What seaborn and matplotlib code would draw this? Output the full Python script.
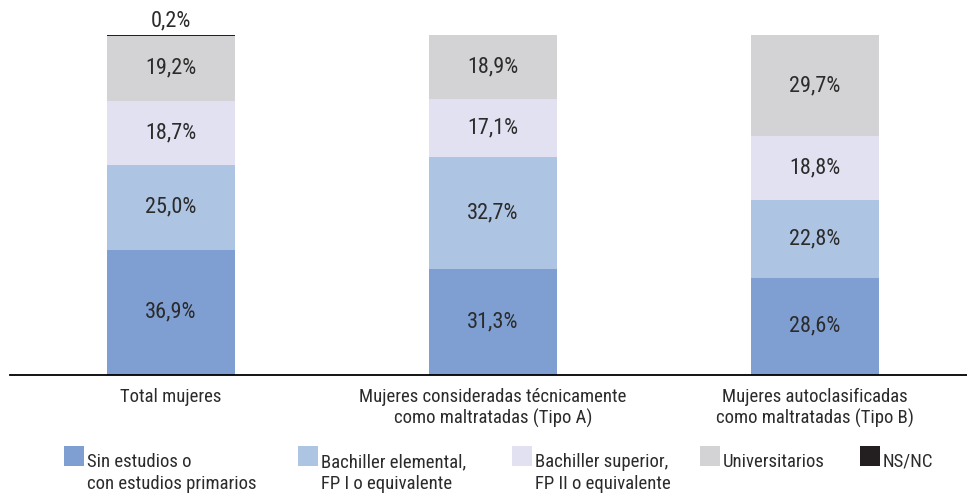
import matplotlib
matplotlib.use("Agg")
import matplotlib.pyplot as plt
import seaborn as sns
import pandas as pd
import numpy as np
from matplotlib.patches import Patch, Rectangle
from matplotlib.legend_handler import HandlerPatch
import logging
logging.getLogger('matplotlib.font_manager').setLevel(logging.ERROR)

categories = ["Total mujeres",
              "Mujeres consideradas técnicamente\ncomo maltratadas (Tipo A)",
              "Mujeres autoclasificadas\ncomo maltratadas (Tipo B)"]
series_names = ["Sin estudios o\ncon estudios primarios",
                "Bachiller elemental,\nFP I o equivalente",
                "Bachiller superior,\nFP II o equivalente",
                "Universitarios",
                "NS/NC"]
sin_estudios = [36.9, 31.3, 28.6]
bach_elemental = [25.0, 32.7, 22.8]
bach_superior = [18.7, 17.1, 18.8]
universitarios = [19.2, 18.9, 29.7]
nsnc = [0.2, 0.0, 0.0]
colors = ["#7f9fd3", "#adc4e2", "#e1e1f1", "#d3d3d5", "#231f20"]
legend_x_px = [64, 298, 512, 700, 860]

sns.set_theme(style="white")
plt.rcParams['font.family'] = ['Liberation Sans Narrow', 'Arial Narrow', 'Roboto Condensed',
                               'Archivo Narrow', 'PT Sans Narrow', 'Liberation Sans', 'DejaVu Sans']
text_color = "#2b2b2b"
FS_NUM = 16
FS = 13.5
LS = 1.3

series = [sin_estudios, bach_elemental, bach_superior, universitarios, nsnc]
vals = np.array(series)
cum = np.cumsum(vals, axis=0)

fig = plt.figure(figsize=(9.67, 4.93), dpi=100)
ax = fig.add_axes([10/967, 1 - 375/493, 966/967, (375 - 35)/493])

# draw cumulative totals from top layer down so they stack visually
for i in range(len(series) - 1, -1, -1):
    df = pd.DataFrame({"cat": categories, "val": cum[i]})
    sns.barplot(data=df, x="cat", y="val", order=categories, color=colors[i],
                saturation=1, width=0.4, linewidth=0, edgecolor="none", ax=ax)

# labels
for j in range(len(categories)):
    bottom = 0
    for i in range(len(series)):
        v = vals[i, j]
        if v > 0:
            lab = f"{v:.1f}".replace(".", ",") + "%"
            if v < 1:
                ax.text(j, bottom + v + 2.6, lab, ha="center", va="baseline",
                        fontsize=FS_NUM, color=text_color, clip_on=False)
            else:
                ax.text(j, bottom + v / 2, lab, ha="center", va="center",
                        fontsize=FS_NUM, color=text_color)
        bottom += v

ax.set_xlim(-0.5, 2.5)
ax.set_ylim(0, 100)
ax.set_xlabel("")
ax.set_ylabel("")
ax.set_yticks([])
for s in ["top", "right", "left"]:
    ax.spines[s].set_visible(False)
ax.spines["bottom"].set_color("#000000")
ax.spines["bottom"].set_linewidth(1.3)
ax.set_xticks(range(len(categories)))
ax.set_xticklabels(categories, fontsize=FS, color=text_color, linespacing=1.2)
ax.tick_params(axis="x", which="major", length=0, pad=9)
ax.set_xticks([-0.5, 0.5, 1.5], minor=True)
ax.tick_params(axis="x", which="minor", length=5, width=1.3, color="#000000", direction="out")


def top_square(legend, orig_handle, xdescent, ydescent, width, height, fontsize):
    sq = width
    if getattr(orig_handle, "two_line", False):
        base = (0.37 * LS + 0.21) * fontsize  # first-line baseline above box origin
    else:
        base = 0.0
    return Rectangle((-xdescent, base + 0.05 * fontsize), sq, sq)


for name, c, xpx in zip(series_names, colors, legend_x_px):
    h = Patch(facecolor=c, edgecolor="none")
    h.two_line = "\n" in name
    leg = fig.legend([h], [name], loc="upper left",
                     bbox_to_anchor=(xpx/967, 1 - 453/493), frameon=False,
                     fontsize=FS, handlelength=1.07, handleheight=0.7,
                     handletextpad=0.15, borderpad=0, borderaxespad=0,
                     handler_map={Patch: HandlerPatch(patch_func=top_square)})
    for t in leg.get_texts():
        t.set_color(text_color)
        t.set_linespacing(LS)

fig.savefig("out.png", dpi=100)
